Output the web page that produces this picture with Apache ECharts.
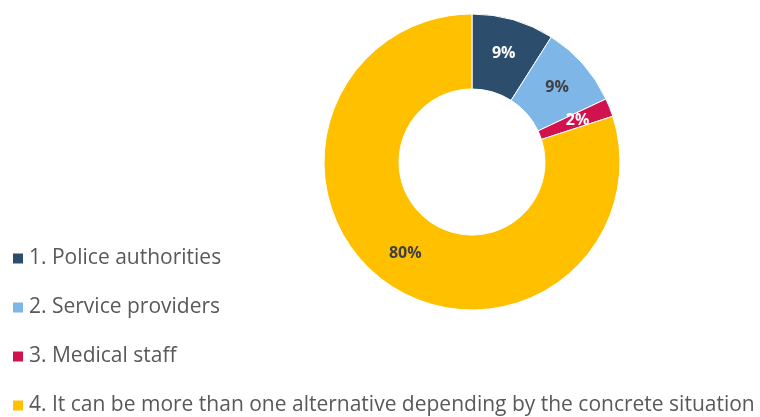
<!DOCTYPE html>
<html><head><meta charset="utf-8">
<script src="https://cdn.jsdelivr.net/npm/echarts@6/dist/echarts.min.js"></script>
<style>html,body{margin:0;padding:0;background:#fff}#c{width:760px;height:417px}</style>
</head><body><div id="c"></div>
<script>
const categories = ["1. Police authorities", "2. Service providers", "3. Medical staff", "4. It can be more than one alternative depending by the concrete situation"];
const values = [9, 9, 2, 80];
const colors = ["#2C4D6C", "#7EB6E8", "#D2124D", "#FFC000"];
const labelColors = ["#ffffff", "#404040", "#ffffff", "#404040"];

const chart = echarts.init(document.getElementById('c'));
chart.setOption({
  animation: false,
  legend: {
    orient: 'vertical', left: 11, top: 248, height: 169, padding: 0,
    itemWidth: 12, itemHeight: 12, itemGap: 28,
    icon: 'rect',
    textStyle: { fontFamily: 'Open Sans', fontSize: 21, color: '#595959', lineHeight: 20 },
    data: categories
  },
  series: [{
    type: 'pie',
    center: [472, 162],
    radius: [73, 148],
    startAngle: 90,
    clockwise: true,
    itemStyle: { borderColor: '#fff', borderWidth: 1 },
    label: {
      position: 'inside',
      fontFamily: 'Open Sans', fontSize: 16, fontWeight: 'bold',
      formatter: p => p.value + '%'
    },
    labelLine: { show: false },
    data: categories.map((n, i) => ({
      name: n, value: values[i],
      itemStyle: { color: colors[i] },
      label: { color: labelColors[i] }
    }))
  }]
});
</script></body></html>
